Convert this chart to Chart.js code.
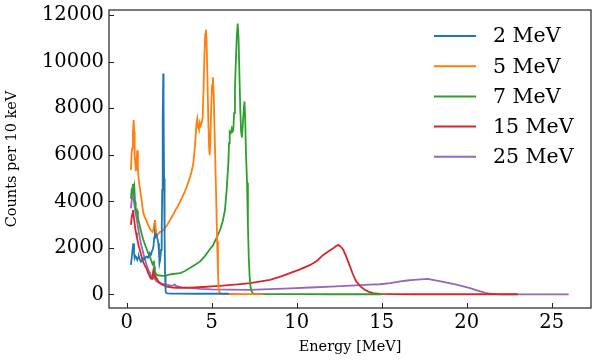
<!DOCTYPE html>
<html>
<head>
<meta charset="utf-8">
<script src="https://cdn.jsdelivr.net/npm/chart.js@4"></script>
<style>
  body { margin: 0; background: #fff; }
  #wrap { width: 598px; height: 364px; }
</style>
</head>
<body>
<div id="wrap"><canvas id="myChart" width="598" height="364"></canvas></div>
<script>
// spectrum data (energy in MeV, counts per 10 keV)
var labels = ["2 MeV", "5 MeV", "7 MeV", "15 MeV", "25 MeV"];
var colors = ["#1f77b4", "#ff7f0e", "#2ca02c", "#d62728", "#9467bd"];

var energy2 = [0.25,0.30,0.34,0.39,0.43,0.47,0.52,0.57,0.62,0.67,0.72,0.78,0.84,0.90,0.98,1.05,1.12,1.18,1.25,1.32,1.37,1.43,1.48,1.53,1.58,1.62,1.66,1.70,1.74,1.78,1.82,1.86,1.90,1.93,1.97,2.02,2.06,2.09,2.12,2.15,2.17,2.20,2.23,2.26,2.29,2.33,2.40,2.6,3.0,4,5,6];
var counts2 = [1270,1600,1900,2200,1800,1560,1650,1600,1490,1580,1630,1500,1410,1480,1560,1520,1600,1630,1580,1700,1770,1720,1850,1920,2100,2450,2630,2500,2560,2480,2350,2200,1800,1350,1500,1920,2600,4500,7500,9500,8000,5000,2500,800,150,60,45,40,35,30,30,30];

var energy5 = [0.25,0.29,0.33,0.37,0.41,0.44,0.47,0.50,0.54,0.58,0.62,0.66,0.70,0.75,0.80,0.86,0.92,0.98,1.05,1.12,1.20,1.28,1.36,1.44,1.52,1.58,1.62,1.66,1.70,1.75,1.80,1.88,1.96,2.05,2.15,2.25,2.35,2.45,2.55,2.65,2.75,2.85,2.95,3.05,3.15,3.25,3.35,3.45,3.55,3.65,3.75,3.85,3.92,3.98,4.04,4.10,4.15,4.20,4.25,4.30,4.35,4.40,4.47,4.52,4.57,4.62,4.66,4.70,4.75,4.80,4.85,4.88,4.92,4.97,5.02,5.07,5.12,5.17,5.22,5.27,5.32,5.37,5.42,5.47,5.6,6,7,8];
var counts5 = [5350,6100,6300,7000,7500,7000,6000,5700,5300,5700,6200,5400,5000,4700,4450,4150,3800,3500,3350,3250,3100,2950,2830,2750,2690,2800,3050,3200,2900,2600,2550,2620,2690,2700,2780,2850,2950,3080,3200,3330,3460,3600,3720,3850,4000,4150,4310,4480,4670,4880,5100,5380,5650,6100,6600,7300,7550,7200,7100,7380,7250,7350,7600,8800,10200,11200,11390,10900,9300,7500,6300,5990,6600,8000,9000,9340,8600,7000,5500,4000,2300,900,200,50,25,20,15,15];

var energy7 = [0.25,0.29,0.33,0.37,0.41,0.45,0.49,0.53,0.57,0.61,0.66,0.72,0.78,0.85,0.92,0.98,1.05,1.12,1.20,1.27,1.33,1.37,1.42,1.47,1.52,1.56,1.60,1.63,1.66,1.71,1.76,1.85,1.96,2.1,2.3,2.5,2.7,2.9,3.14,3.4,3.7,4.0,4.31,4.6,4.85,5.09,5.3,5.49,5.65,5.78,5.88,5.94,5.98,6.02,6.06,6.12,6.18,6.22,6.27,6.32,6.37,6.42,6.47,6.53,6.58,6.63,6.68,6.73,6.78,6.83,6.88,6.93,6.97,7.02,7.08,7.13,7.18,7.23,7.28,7.35,7.45,7.6,8,10,12,14,15];
var counts7 = [4110,4450,4350,4760,4500,4650,4000,3750,3550,3600,3300,3100,2910,2700,2500,2340,2200,2050,1900,1770,1680,1630,1500,1410,1300,1350,1450,1200,990,900,840,820,815,800,810,850,880,900,920,1000,1130,1270,1410,1650,1900,2130,2450,2770,3150,3630,4490,5200,5630,6500,7000,6950,7130,7000,7050,7800,8900,10000,11000,11650,11000,9500,8000,7000,6750,7300,7900,8300,7600,6000,4800,3000,1600,800,350,120,40,20,15,12,10,10,10];

var energy15 = [0.25,0.29,0.33,0.37,0.41,0.45,0.50,0.55,0.60,0.66,0.72,0.78,0.85,0.92,0.98,1.05,1.12,1.18,1.25,1.32,1.37,1.44,1.49,1.53,1.58,1.62,1.67,1.72,1.76,1.85,1.96,2.1,2.35,2.7,3.0,3.5,4,4.5,5,5.49,6,6.5,7,7.25,7.8,8.43,9,9.6,10.2,10.8,11.2,11.56,11.9,12.15,12.3,12.45,12.6,12.74,12.9,13.14,13.3,13.5,13.75,14.0,14.25,14.5,14.9,15.5,17,19,21,23];
var counts15 = [2990,3300,3450,3630,3400,3150,2850,2650,2450,2250,2050,1910,1700,1520,1380,1270,1170,1110,950,830,760,700,670,800,1060,950,780,720,700,580,490,420,340,300,280,285,300,320,345,370,400,430,470,490,550,630,760,920,1080,1270,1450,1700,1870,1990,2070,2130,2050,1920,1650,1200,880,560,350,200,110,60,25,15,10,10,10,10];

var energy25 = [0.25,0.29,0.33,0.37,0.41,0.45,0.50,0.55,0.59,0.66,0.72,0.78,0.85,0.92,0.98,1.05,1.12,1.18,1.25,1.32,1.37,1.44,1.50,1.54,1.58,1.62,1.67,1.76,1.9,2.1,2.35,2.6,2.75,2.82,2.9,3.2,3.6,4.31,5,6,7.25,8.4,9.6,10.8,12,13.2,14.3,14.9,15.5,16.1,16.5,16.9,17.3,17.7,18.0,18.4,18.9,19.4,19.8,20.2,20.5,20.8,21.1,21.4,21.7,22,23,24,25,26];
var counts25 = [3700,4000,4200,4400,4100,3900,3600,3400,3260,2900,2650,2400,2150,1950,1760,1580,1400,1260,1100,980,900,800,720,850,990,850,650,560,500,460,420,380,390,430,370,320,290,240,220,210,200,230,260,300,340,380,420,440,490,560,600,630,650,670,630,570,500,420,350,270,200,130,70,30,12,6,5,5,5,5];

var xTicks = [0, 5, 10, 15, 20, 25];
var yTicks = [0, 2000, 4000, 6000, 8000, 10000, 12000];

function toPoints(xs, ys) {
  var pts = [];
  for (var i = 0; i < xs.length; i++) pts.push({ x: xs[i], y: ys[i] });
  return pts;
}

var series = [
  toPoints(energy2, counts2),
  toPoints(energy5, counts5),
  toPoints(energy7, counts7),
  toPoints(energy15, counts15),
  toPoints(energy25, counts25),
];

var datasets = series.map(function (pts, i) {
  return {
    label: labels[i],
    data: pts,
    borderColor: colors[i],
    backgroundColor: colors[i],
    borderWidth: 1.8,
    pointRadius: 0,
    tension: 0,
    fill: false,
  };
});

var serif = "'DejaVu Serif', serif";

// frame, inward tick marks and the legend, drawn like matplotlib
var framePlugin = {
  id: "frame",
  afterDraw: function (chart) {
    var ctx = chart.ctx;
    var a = chart.chartArea;
    ctx.save();
    ctx.strokeStyle = "#222";
    ctx.lineWidth = 1.2;
    ctx.strokeRect(a.left, a.top, a.right - a.left, a.bottom - a.top);

    ctx.lineWidth = 1;
    ctx.beginPath();
    xTicks.forEach(function (v) {
      var px = Math.round(chart.scales.x.getPixelForValue(v)) + 0.5;
      ctx.moveTo(px, a.bottom);
      ctx.lineTo(px, a.bottom - 5);
    });
    yTicks.forEach(function (v) {
      var py = Math.round(chart.scales.y.getPixelForValue(v)) + 0.5;
      ctx.moveTo(a.left, py);
      ctx.lineTo(a.left + 5, py);
    });
    ctx.stroke();

    // legend
    ctx.font = "20.5px " + serif;
    ctx.textBaseline = "middle";
    ctx.fillStyle = "#000";
    chart.data.datasets.forEach(function (ds, i) {
      var y = 36 + i * 30.2;
      ctx.strokeStyle = ds.borderColor;
      ctx.lineWidth = 2;
      ctx.beginPath();
      ctx.moveTo(434, y);
      ctx.lineTo(476, y);
      ctx.stroke();
      ctx.fillText(ds.label, 493, y + 1);
    });
    ctx.restore();
  },
};

var ctx = document.getElementById("myChart").getContext("2d");
var myChart = new Chart(ctx, {
  type: "line",
  data: { datasets: datasets },
  options: {
    responsive: false,
    animation: false,
    layout: { padding: { left: 0, top: 10, right: 7, bottom: 0 } },
    plugins: {
      legend: { display: false },
      tooltip: { enabled: false },
    },
    scales: {
      x: {
        type: "linear",
        min: -1.04,
        max: 27.31,
        grid: { display: false, drawTicks: false },
        border: { display: false },
        afterFit: function (s) {
          s.height = 56;
          s.paddingLeft = 0;
          s.paddingRight = 0;
        },
        afterBuildTicks: function (s) {
          s.ticks = xTicks.map(function (v) { return { value: v }; });
        },
        ticks: {
          padding: 3,
          color: "#000",
          font: { family: serif, size: 19.5 },
          callback: function (v) { return String(v); },
        },
        title: {
          display: true,
          text: "Energy [MeV]",
          color: "#000",
          font: { family: serif, size: 14.5 },
          padding: { top: 0, bottom: 8 },
        },
      },
      y: {
        type: "linear",
        min: -582,
        max: 12232,
        grid: { display: false, drawTicks: false },
        border: { display: false },
        afterFit: function (s) {
          s.width = 109;
          s.paddingTop = 0;
          s.paddingBottom = 0;
        },
        afterBuildTicks: function (s) {
          s.ticks = yTicks.map(function (v) { return { value: v }; });
        },
        ticks: {
          padding: 5,
          color: "#000",
          font: { family: serif, size: 19.5 },
          callback: function (v) { return String(v); },
        },
        title: {
          display: true,
          text: "Counts per 10 keV",
          color: "#000",
          font: { family: serif, size: 14.5 },
          padding: { top: 4, bottom: 0 },
        },
      },
    },
  },
  plugins: [framePlugin],
});
</script>
</body>
</html>
